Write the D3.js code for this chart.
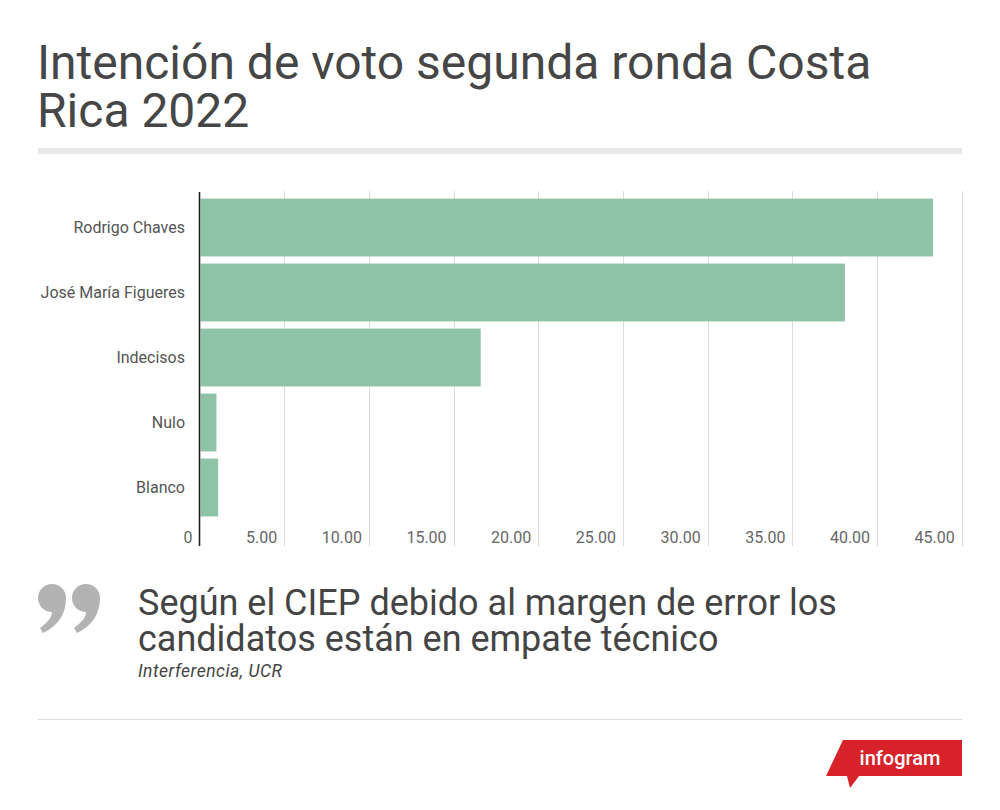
<!DOCTYPE html>
<html>
<head>
<meta charset="utf-8">
<script src="https://cdn.jsdelivr.net/npm/d3@7"></script>
<style>
  html, body { margin: 0; padding: 0; background: #fff; }
  svg { display: block; font-family: Roboto, "Noto Sans", sans-serif; }
</style>
</head>
<body>
<svg id="chart" width="1000" height="810"></svg>
<script>
const categories = ["Rodrigo Chaves", "José María Figueres", "Indecisos", "Nulo", "Blanco"];
const values = [43.3, 38.1, 16.6, 1.0, 1.1];
const tickValues = [0, 5, 10, 15, 20, 25, 30, 35, 40, 45];
const titleLines = ["Intención de voto segunda ronda Costa", "Rica 2022"];
const quoteLines = ["Según el CIEP debido al margen de error los", "candidatos están en empate técnico"];
const sourceText = "Interferencia, UCR";

const svg = d3.select("#chart");

// Title
svg.append("text")
  .attr("font-size", 48).attr("fill", "#464646")
  .selectAll("tspan").data(titleLines).join("tspan")
  .attr("x", 37).attr("y", (d, i) => 79 + i * 48)
  .text(d => d);

svg.append("rect").attr("x", 38).attr("y", 148).attr("width", 924).attr("height", 6).attr("fill", "#e8e8e8");

// Chart
const x = d3.scaleLinear().domain([0, 45]).range([199.5, 961.8]);
const y = d3.scaleBand().domain(categories).range([196, 519]).paddingInner(0.11).paddingOuter(0.04);

const g = svg.append("g");

// gridlines
g.selectAll("line.grid").data(tickValues.filter(d => d > 0)).join("line")
  .attr("class", "grid")
  .attr("x1", d => Math.round(x(d)) + 0.5).attr("x2", d => Math.round(x(d)) + 0.5)
  .attr("y1", 191).attr("y2", 546)
  .attr("stroke", "#dcdcdc").attr("stroke-width", 1);

// bars
g.selectAll("rect.bar").data(values).join("rect")
  .attr("class", "bar")
  .attr("x", x(0) + 1)
  .attr("y", (d, i) => y(categories[i]))
  .attr("width", d => x(d) - x(0) - 1)
  .attr("height", y.bandwidth())
  .attr("fill", "#8ec3a7");

// axis line
g.append("line").attr("x1", 199.5).attr("x2", 199.5).attr("y1", 192).attr("y2", 546)
  .attr("stroke", "#222").attr("stroke-width", 1.6);

// category labels
g.selectAll("text.cat").data(categories).join("text")
  .attr("class", "cat")
  .attr("x", 185)
  .attr("y", d => y(d) + y.bandwidth() / 2 + 5.5)
  .attr("text-anchor", "end").attr("font-size", 16).attr("fill", "#555")
  .text(d => d);

// tick labels
g.selectAll("text.tick").data(tickValues).join("text")
  .attr("class", "tick")
  .attr("x", d => x(d) - 7)
  .attr("y", 543)
  .attr("text-anchor", "end").attr("font-size", 16).attr("fill", "#666")
  .text(d => d === 0 ? "0" : d3.format(".2f")(d));

// Quote mark (drawn glyph)
const markPath = ox => `M${52 + ox},612 A14,14 0 1,1 ${66 + ox},598 C${66 + ox},614 ${58 + ox},626 ${43 + ox},633 L${40 + ox},628 C${48 + ox},622 ${52 + ox},617 ${52 + ox},612 Z`;
svg.selectAll("path.qmark").data([0, 34]).join("path")
  .attr("class", "qmark")
  .attr("d", d => markPath(d))
  .attr("fill", "#b3b3b3");

// Quote text
svg.append("text")
  .attr("font-size", 36).attr("fill", "#444")
  .selectAll("tspan").data(quoteLines).join("tspan")
  .attr("x", 138).attr("y", (d, i) => 615 + i * 36)
  .text(d => d);

svg.append("text")
  .attr("x", 138).attr("y", 677)
  .attr("font-size", 17.5).attr("font-style", "italic").attr("fill", "#444")
  .attr("letter-spacing", 0.5)
  .text(sourceText);

// bottom rule
svg.append("rect").attr("x", 38).attr("y", 719).attr("width", 924).attr("height", 1).attr("fill", "#ddd");

// infogram logo
const logo = svg.append("g");
logo.append("path")
  .attr("d", "M843,740 L962,740 L962,776 L859,776 L850,788 L847,776 L826,776 Z")
  .attr("fill", "#d7222a");
logo.append("text")
  .attr("x", 900).attr("y", 765)
  .attr("text-anchor", "middle")
  .attr("font-size", 20).attr("font-weight", 500).attr("fill", "#fff")
  .attr("font-family", "Roboto, sans-serif")
  .text("infogram");
</script>
</body>
</html>
